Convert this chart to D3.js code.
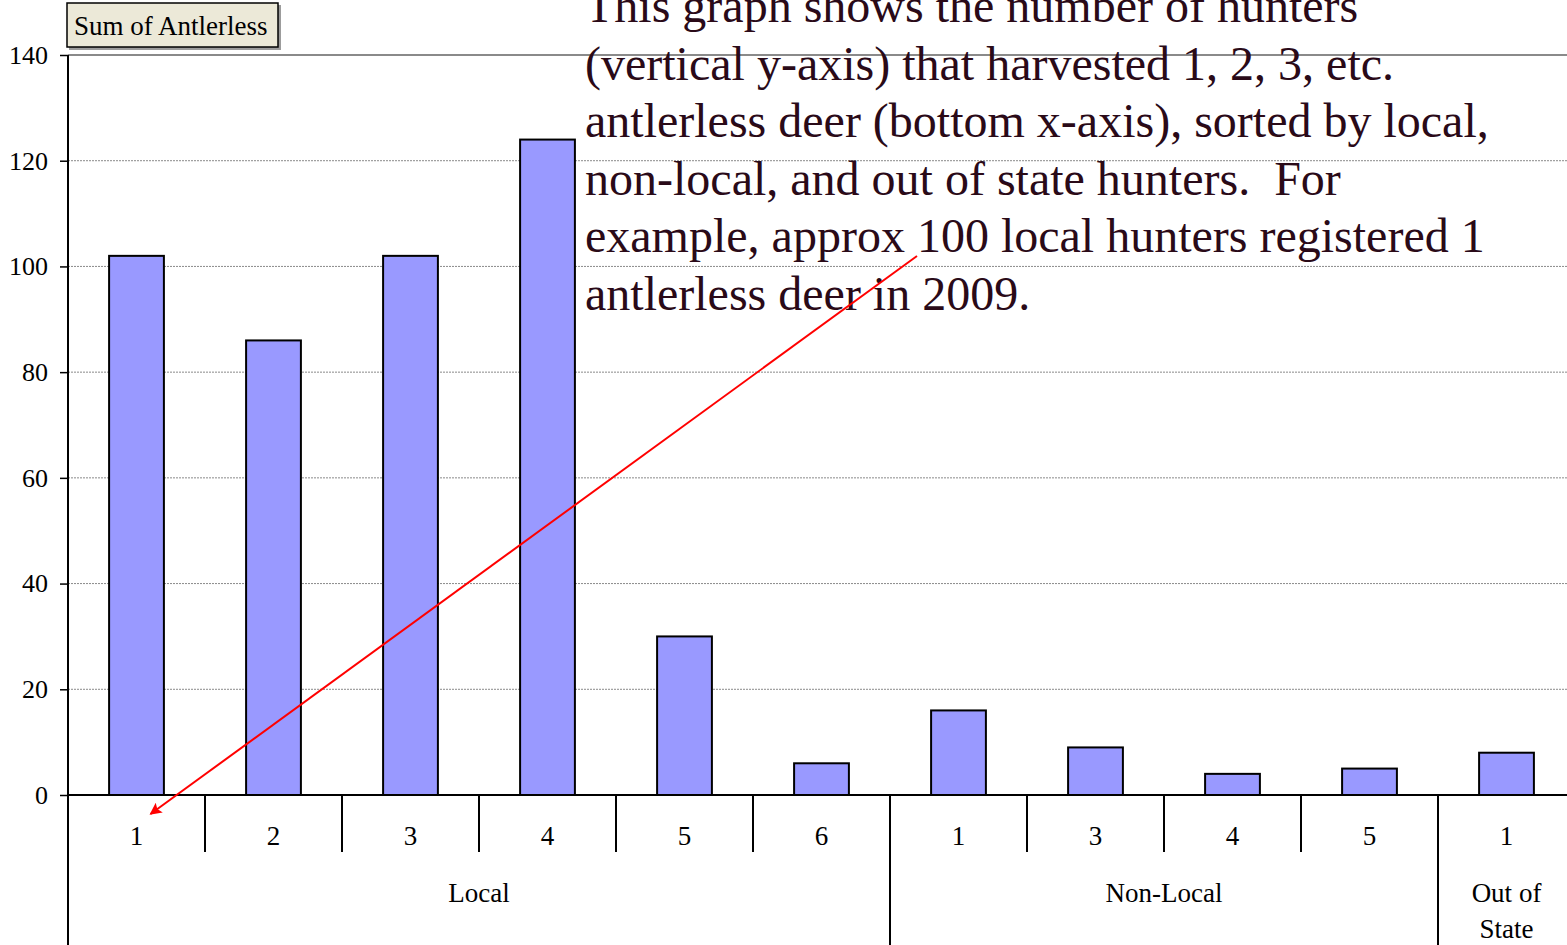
<!DOCTYPE html>
<html>
<head>
<meta charset="utf-8" />
<title>Sum of Antlerless</title>
<style>
  body { margin: 0; background: #fff; }
  svg { display: block; font-family: "Liberation Serif", "Times New Roman", serif; }
</style>
</head>
<body>
<svg width="1567" height="945"></svg>
<script src="https://cdn.jsdelivr.net/npm/d3@7"></script>
<script>
// hunter residency group, antlerless deer count, number of hunters
var groupOf = ["Local", "Local", "Local", "Local", "Local", "Local",
               "Non-Local", "Non-Local", "Non-Local", "Non-Local", "Out of State"];
var deerCount = ["1", "2", "3", "4", "5", "6", "1", "3", "4", "5", "1"];
var hunters = [102, 86, 102, 124, 30, 6, 16, 9, 4, 5, 8];
var yTicks = [0, 20, 40, 60, 80, 100, 120, 140];
var legendLabel = "Sum of Antlerless";
var note = [
    "This graph shows the number of hunters",
    "(vertical y-axis) that harvested 1, 2, 3, etc.",
    "antlerless deer (bottom x-axis), sorted by local,",
    "non-local, and out of state hunters.  For",
    "example, approx 100 local hunters registered 1",
    "antlerless deer in 2009."
];

(function () {
var data = hunters.map(function (v, i) {
    return { key: i, group: groupOf[i], count: deerCount[i], value: v };
});

var svg = d3.select('svg');
var pl = 68, pr = 1575, pt = 55, pb = 795;

var x = d3.scaleBand()
    .domain(data.map(function (d) { return d.key; }))
    .range([pl, pr])
    .padding(0);

var y = d3.scaleLinear()
    .domain([0, 140])
    .range([pb, pt]);

// gridlines
svg.append('g')
    .selectAll('line')
    .data(yTicks.filter(function (t) { return t > 0; }))
    .enter()
    .append('line')
    .attr('x1', pl)
    .attr('x2', 1567)
    .attr('y1', function (d) { return y(d); })
    .attr('y2', function (d) { return y(d); })
    .attr('stroke', '#8a8a8a')
    .attr('stroke-width', function (d) { return d === 140 ? 2 : 1; })
    .attr('stroke-dasharray', function (d) { return d === 140 ? null : '2,1'; });

// bars
var bw = x.bandwidth() * 0.4;
svg.append('g')
    .selectAll('rect')
    .data(data)
    .enter()
    .append('rect')
    .attr('x', function (d) { return x(d.key) + (x.bandwidth() - bw) / 2; })
    .attr('y', function (d) { return y(d.value); })
    .attr('width', bw)
    .attr('height', function (d) { return y(0) - y(d.value); })
    .attr('fill', '#9999ff')
    .attr('stroke', '#000')
    .attr('stroke-width', 2);

// y axis
var yAxis = d3.axisLeft(y)
    .tickValues(yTicks)
    .tickSize(8)
    .tickPadding(12);
var ya = svg.append('g')
    .attr('transform', 'translate(' + pl + ',0)')
    .call(yAxis);
ya.select('.domain').remove();
ya.selectAll('line').attr('stroke', '#000').attr('stroke-width', 1.5);
ya.selectAll('text')
    .attr('font-family', '"Liberation Serif", serif')
    .attr('font-size', 26)
    .attr('fill', '#000');

// axes lines
svg.append('line')
    .attr('x1', pl).attr('x2', pl)
    .attr('y1', pt).attr('y2', 945)
    .attr('stroke', '#000').attr('stroke-width', 2);
svg.append('line')
    .attr('x1', pl).attr('x2', 1567)
    .attr('y1', y(0)).attr('y2', y(0))
    .attr('stroke', '#000').attr('stroke-width', 2);

// category boundaries (short ticks inside a group, long between groups)
var boundaries = data.slice(1).map(function (d, i) {
    return { pos: x(d.key), split: d.group !== data[i].group };
});
svg.append('g')
    .selectAll('line')
    .data(boundaries)
    .enter()
    .append('line')
    .attr('x1', function (d) { return d.pos; })
    .attr('x2', function (d) { return d.pos; })
    .attr('y1', y(0))
    .attr('y2', function (d) { return d.split ? 945 : 852; })
    .attr('stroke', '#000')
    .attr('stroke-width', 2);

// count labels
svg.append('g')
    .selectAll('text')
    .data(data)
    .enter()
    .append('text')
    .attr('x', function (d) { return x(d.key) + x.bandwidth() / 2; })
    .attr('y', 845)
    .attr('text-anchor', 'middle')
    .attr('font-size', 27)
    .text(function (d) { return d.count; });

// group labels
var groups = d3.groups(data, function (d) { return d.group; }).map(function (g) {
    var first = g[1][0].key, last = g[1][g[1].length - 1].key;
    return { name: g[0], mid: (x(first) + x(last) + x.bandwidth()) / 2 };
});
var gl = svg.append('g')
    .selectAll('text')
    .data(groups)
    .enter()
    .append('text')
    .attr('x', function (d) { return d.mid; })
    .attr('y', 902)
    .attr('text-anchor', 'middle')
    .attr('font-size', 27);
gl.each(function (d) {
    var t = d3.select(this);
    var parts = d.name === 'Out of State' ? ['Out of', 'State'] : [d.name];
    parts.forEach(function (p, i) {
        t.append('tspan')
            .attr('x', d.mid)
            .attr('dy', i === 0 ? 0 : 36)
            .text(p);
    });
});

// legend box
var lg = svg.append('g');
lg.append('rect')
    .attr('x', 69).attr('y', 5)
    .attr('width', 212).attr('height', 45)
    .attr('fill', '#9c9c9c');
lg.append('rect')
    .attr('x', 67).attr('y', 3)
    .attr('width', 211).attr('height', 44)
    .attr('fill', '#ece9d8')
    .attr('stroke', '#000')
    .attr('stroke-width', 1.5);
lg.append('text')
    .attr('x', 74).attr('y', 35)
    .attr('font-size', 27)
    .attr('fill', '#000')
    .text(legendLabel);

// annotation text
svg.append('g')
    .selectAll('text')
    .data(note)
    .enter()
    .append('text')
    .attr('x', 585)
    .attr('y', function (d, i) { return 22 + i * 57.6; })
    .attr('font-size', 48)
    .attr('fill', '#2a0a18')
    .style('white-space', 'pre')
    .text(function (d) { return d; });

// red arrow pointing to the first Local bar
svg.append('defs').append('marker')
    .attr('id', 'head')
    .attr('viewBox', '0 0 10 10')
    .attr('refX', 9).attr('refY', 5)
    .attr('markerWidth', 7).attr('markerHeight', 6)
    .attr('markerUnits', 'strokeWidth')
    .attr('orient', 'auto')
    .append('path')
    .attr('d', 'M0,0 L10,5 L0,10 L2,5 Z')
    .attr('fill', '#ff0000');
svg.append('line')
    .attr('x1', 917).attr('y1', 256)
    .attr('x2', x(0) + x.bandwidth() / 2 + 14).attr('y2', y(-3.6))
    .attr('stroke', '#ff0000')
    .attr('stroke-width', 2)
    .attr('marker-end', 'url(#head)');
})();
</script>
</body>
</html>
